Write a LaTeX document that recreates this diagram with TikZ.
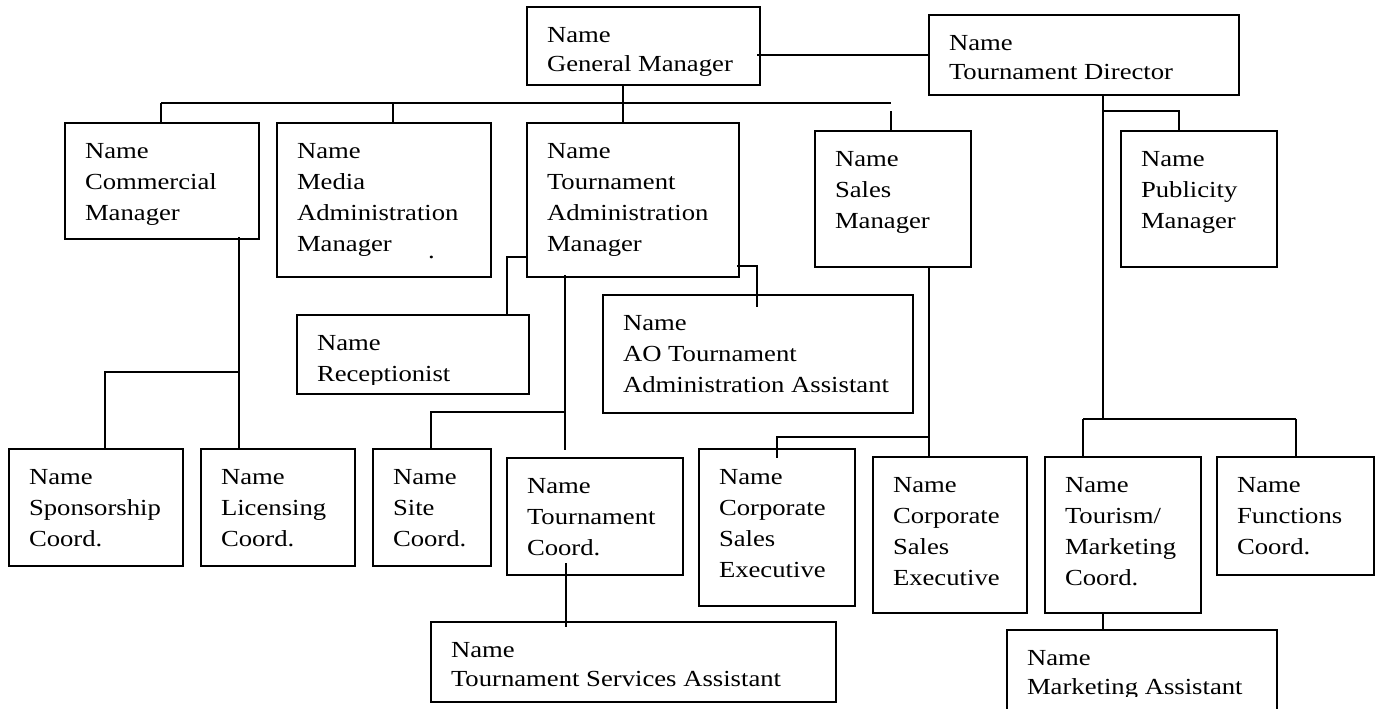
\documentclass[tikz,border=0pt]{standalone}
\usepackage{fontspec}
\setmainfont{Liberation Serif}[FakeStretch=1.16]
\tikzset{
  box/.style={draw, line width=1.6pt, rectangle, inner sep=0pt, outer sep=0pt},
  lbl/.style={inner sep=0pt, outer sep=0pt, align=left, anchor=north west,
              font=\fontsize{23}{31}\selectfont},
  lbltwo/.style={lbl, font=\fontsize{23}{29.5}\selectfont},
  wire/.style={line width=1.6pt},
}
% \orgbox{name}{x1}{y1}{x2}{y2}: an empty frame between two corners
\newcommand\orgbox[5]{%
  \node[box, minimum width={(#4-(#2))*1pt}, minimum height={(#5-(#3))*1pt}]
    (#1) at ({(#2+#4)/2},{(#3+#5)/2}) {};}
% \orgtext[style]{name}{lines}: the text inside a frame
\newcommand\orgtext[3][lbl]{%
  \node[#1] (#2-t) at ([shift={(20pt,-20pt)}]#2.north west) {#3};}
\begin{document}
\begin{tikzpicture}[x=1pt, y=-1pt]
\useasboundingbox (0,0) rectangle (1381,709);

% ---------- frames ----------
\orgbox{gm}{527}{7}{760}{85}
\orgbox{td}{929}{15}{1239}{95}
\orgbox{cm}{65}{123}{259}{239}
\orgbox{mam}{277}{123}{491}{277}
\orgbox{tam}{527}{123}{739}{277}
\orgbox{sm}{815}{131}{971}{267}
\orgbox{pm}{1121}{131}{1277}{267}
\orgbox{rec}{297}{315}{529}{394}
\orgbox{ao}{603}{295}{913}{413}
\orgbox{spc}{9}{449}{183}{566}
\orgbox{lic}{201}{449}{355}{566}
\orgbox{site}{373}{449}{491}{566}
\orgbox{tc}{507}{458}{683}{575}
\orgbox{cseA}{699}{449}{855}{606}
\orgbox{cseB}{873}{457}{1027}{613}
\orgbox{tmc}{1045}{457}{1201}{613}
\orgbox{fc}{1217}{457}{1374}{575}
\orgbox{tsa}{431}{622}{836}{702}
\orgbox{ma}{1007}{630}{1277}{730}

% ---------- texts ----------
\begin{scope}
  \clip (527,7) rectangle (760,81);
  \orgtext[lbltwo]{gm}{Name\\General Manager}
\end{scope}
\orgtext[lbltwo]{td}{Name\\Tournament Director}
\orgtext{cm}{Name\\Commercial\\Manager}
\orgtext{mam}{Name\\Media\\Administration\\Manager}
\node[inner sep=0pt, anchor=base west, font=\fontsize{23}{31}\selectfont] (stray) at (428,258) {.};
\orgtext{tam}{Name\\Tournament\\Administration\\Manager}
\orgtext{sm}{Name\\Sales\\Manager}
\orgtext{pm}{Name\\Publicity\\Manager}
\begin{scope}
  \clip (297,315) rectangle (529,384);
  \orgtext{rec}{Name\\Receptionist}
\end{scope}
\orgtext{ao}{Name\\AO Tournament\\Administration Assistant}
\orgtext{spc}{Name\\Sponsorship\\Coord.}
\orgtext{lic}{Name\\Licensing\\Coord.}
\orgtext{site}{Name\\Site\\Coord.}
\orgtext{tc}{Name\\Tournament\\Coord.}
\orgtext{cseA}{Name\\Corporate\\Sales\\Executive}
\orgtext{cseB}{Name\\Corporate\\Sales\\Executive}
\orgtext{tmc}{Name\\Tourism/\\Marketing\\Coord.}
\orgtext{fc}{Name\\Functions\\Coord.}
\orgtext[lbltwo]{tsa}{Name\\Tournament Services Assistant}
\begin{scope}
  \clip (1007,630) rectangle (1277,696);
  \orgtext[lbltwo]{ma}{Name\\Marketing Assistant}
\end{scope}

% ---------- connectors ----------
% general manager to tournament director
\draw[wire] ([xshift=-3pt]gm.east |- td.west) -- (td.west);
% general manager to its managers
\coordinate (gmx) at (623,103);
\coordinate (busL) at (161,103);
\coordinate (busM) at (393,103);
\coordinate (busR) at (891,103);
\draw[wire] (gm.south -| gmx) -- (tam.north -| gmx);
\draw[wire] (busL) -- (busR);
\draw[wire] (busL) -- (cm.north -| busL);
\draw[wire] (busM) -- (mam.north -| busM);
\coordinate (smtop) at (891,111);
\draw[wire] (smtop) -- (sm.north -| smtop);
% tournament director branch
\coordinate (tdx) at (1103,111);
\coordinate (pmx) at (1179,111);
\coordinate (mkx) at (1103,419);
\coordinate (mkL) at (1083,419);
\coordinate (mkR) at (1296,419);
\draw[wire] (td.south -| tdx) -- (mkx);
\draw[wire] (tdx) -- (pmx) -- (pm.north -| pmx);
\draw[wire] (mkL) -- (mkR);
\draw[wire] (mkL) -- (tmc.north -| mkL);
\draw[wire] (mkR) -- (fc.north -| mkR);
\draw[wire] (tmc.south -| tdx) -- (ma.north -| tdx);
% commercial manager branch
\coordinate (cmx) at (239,372);
\coordinate (spx) at (105,372);
\draw[wire] ([yshift=2pt]cm.south -| cmx) -- (lic.north -| cmx);
\draw[wire] (cmx) -- (spx) -- (spc.north -| spx);
% tournament administration manager branches
\coordinate (recx) at (507,257);
\draw[wire] (tam.west |- recx) -- (recx) -- (rec.north -| recx);
\coordinate (tamx) at (565,412);
\coordinate (sitex) at (431,412);
\coordinate (tamend) at (565,450);
\draw[wire] ([yshift=2pt]tam.south -| tamx) -- (tamend);
\draw[wire] (tamx) -- (sitex) -- (site.north -| sitex);
\coordinate (tcx) at (566,563);
\draw[wire] (tcx) -- ([yshift=-5pt]tsa.north -| tcx);
\coordinate (aox) at (757,266);
\draw[wire] ([xshift=-2pt]tam.east |- aox) -- (aox) -- ([yshift=-12pt]ao.north -| aox);
% sales manager branch
\coordinate (smx) at (929,437);
\coordinate (csx) at (777,437);
\draw[wire] (sm.south -| smx) -- (cseB.north -| smx);
\draw[wire] (smx) -- (csx) -- ([yshift=-9pt]cseA.north -| csx);
\end{tikzpicture}
\end{document}
